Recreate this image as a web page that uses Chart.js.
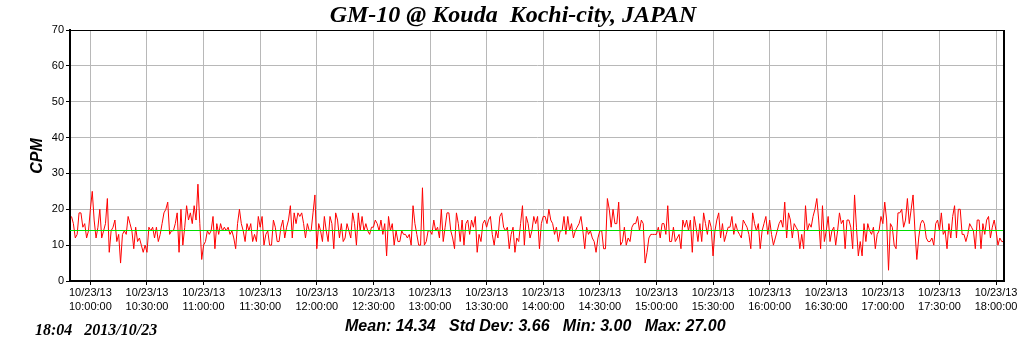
<!DOCTYPE html>
<html lang="en">
<head>
<meta charset="UTF-8">
<title>GM-10 @ Kouda Kochi-city, JAPAN</title>
<script src="https://cdn.jsdelivr.net/npm/chart.js"></script>
<style>
  body { margin: 0; background: #fff; }
</style>
</head>
<body>
<canvas id="cpmChart" width="1024" height="351"></canvas>
<script>
// one reading per minute, first one at 09:50 (x = minutes after 10:00)
const startMinute = -10;
const cpm = [
  // 09:50 - 10:50
  18,16,12,13,19,19,15,16,12,14,20,25,17,12,15,20,12,14,16,23,8,14,15,17,11,13,5,13,14,13,
  18,16,14,9,15,11,12,10,8,10,8,15,14,15,12,15,11,13,16,19,20,22,13,14,14,16,19,8,20,10,15,
  // 10:51 - 11:52
  21,17,19,16,21,17,27,16,6,10,11,14,13,14,18,9,16,13,16,14,15,14,15,13,14,12,9,16,20,16,
  14,11,16,14,16,11,13,11,18,15,18,10,13,14,10,10,17,15,11,11,15,17,12,15,17,21,12,19,16,19,18,19,
  // 11:53 - 12:54
  16,12,16,14,14,19,24,9,16,14,11,18,14,11,18,16,9,19,17,12,16,11,12,16,14,12,19,16,10,19,
  14,18,14,16,14,13,15,15,17,16,14,17,13,16,7,18,14,16,10,14,11,11,14,13,13,12,13,10,21,16,13,10,
  // 12:55 - 13:56
  10,26,10,11,14,14,13,17,14,15,12,20,11,15,19,19,14,12,9,19,16,11,17,10,16,17,13,17,15,18,
  8,13,11,16,17,15,17,18,13,10,14,12,18,19,15,14,15,9,13,15,8,12,11,16,21,10,18,16,12,14,18,16,
  // 13:57 - 14:57
  18,9,16,18,18,16,20,17,16,13,15,11,14,14,18,13,18,14,16,12,14,15,16,18,14,9,15,13,14,12,
  11,8,12,14,14,9,9,23,20,15,20,16,16,22,10,11,15,10,12,11,15,16,16,18,14,17,16,5,8,12,13,
  // 14:58 - 16:00
  13,13,13,15,12,16,16,13,21,11,11,15,11,12,13,9,17,15,17,14,17,8,18,15,11,16,11,19,16,13,
  17,15,7,14,17,19,12,16,11,13,15,15,18,13,16,14,13,12,17,16,15,13,9,19,16,14,16,9,14,16,18,13,17,
  // 16:01 - 17:03
  13,10,12,14,16,17,15,22,12,19,17,12,16,15,14,9,13,9,21,14,16,15,18,20,23,17,9,21,11,14,
  18,11,14,15,10,14,19,16,17,9,17,17,15,9,24,15,7,11,7,16,11,16,14,13,15,9,13,14,18,16,22,17,3,
  // 17:04 - 18:04
  16,15,10,9,19,19,20,15,17,23,16,20,24,14,6,12,16,17,16,12,11,11,12,10,16,17,14,19,13,14,
  9,16,12,18,21,12,20,20,13,13,11,13,16,15,14,9,17,17,9,16,13,17,18,12,15,17,14,10,12,11,11
];
const meanCpm = 14.34;

const tickDate = '10/23/13';
const tickTimes = ['10:00:00','10:30:00','11:00:00','11:30:00','12:00:00','12:30:00','13:00:00','13:30:00',
  '14:00:00','14:30:00','15:00:00','15:30:00','16:00:00','16:30:00','17:00:00','17:30:00','18:00:00'];
const tickMinutes = [0,30,60,90,120,150,180,210,240,270,300,330,360,390,420,450,480];

const chartTitle = 'GM-10 @ Kouda  Kochi-city, JAPAN';
const stampText = '18:04   2013/10/23';
const statsText = 'Mean: 14.34   Std Dev: 3.66   Min: 3.00   Max: 27.00';

const xMin = -10.8;
const xMax = 484.2;

const points = cpm.map((v, i) => ({ x: startMinute + i, y: v }));

// mean line on top of the data
const meanPlugin = {
  id: 'meanLine',
  afterDatasetsDraw(chart) {
    const ctx = chart.ctx;
    const a = chart.chartArea;
    const y = Math.round(chart.scales.y.getPixelForValue(meanCpm)) + 0.5;
    ctx.save();
    ctx.strokeStyle = '#00dd00';
    ctx.lineWidth = 1;
    ctx.beginPath();
    ctx.moveTo(a.left, y);
    ctx.lineTo(a.right, y);
    ctx.stroke();
    ctx.restore();
  }
};

// title, footer texts and the top/right frame
const textPlugin = {
  id: 'texts',
  afterDraw(chart) {
    const ctx = chart.ctx;
    const a = chart.chartArea;
    ctx.save();
    ctx.strokeStyle = '#000';
    ctx.lineWidth = 1;
    ctx.beginPath();
    ctx.moveTo(a.left, a.top + 0.5);
    ctx.lineTo(a.right, a.top + 0.5);
    ctx.stroke();
    ctx.lineWidth = 2;
    ctx.beginPath();
    ctx.moveTo(a.right, a.top);
    ctx.lineTo(a.right, a.bottom);
    ctx.stroke();

    ctx.fillStyle = '#000';
    ctx.textBaseline = 'middle';
    ctx.textAlign = 'center';
    ctx.font = 'bold italic 24px "Liberation Serif"';
    ctx.fillText(chartTitle, 513, 16);

    ctx.textAlign = 'left';
    ctx.font = 'bold italic 16px "Liberation Serif"';
    ctx.fillText(stampText, 35, 331);
    ctx.font = 'bold italic 16px "Liberation Sans"';
    ctx.fillText(statsText, 345, 327);

    ctx.translate(38, 156);
    ctx.rotate(-Math.PI / 2);
    ctx.textAlign = 'center';
    ctx.fillText('CPM', 0, 0);
    ctx.restore();
  }
};

const config = {
  type: 'line',
  data: {
    datasets: [
      {
        label: 'CPM',
        data: points,
        borderColor: '#ff0000',
        borderWidth: 1,
        pointRadius: 0,
        tension: 0
      }
    ]
  },
  options: {
    responsive: false,
    animation: false,
    layout: { padding: { top: 30, right: 20, left: 0, bottom: 0 } },
    plugins: {
      legend: { display: false },
      tooltip: { enabled: false }
    },
    scales: {
      x: {
        type: 'linear',
        min: xMin,
        max: xMax,
        afterBuildTicks: s => { s.ticks = tickMinutes.map(v => ({ value: v })); },
        afterFit: s => { s.height = 70; s.paddingLeft = 0; s.paddingRight = 0; },
        ticks: {
          autoSkip: false,
          maxRotation: 0,
          minRotation: 0,
          padding: 1,
          color: '#000',
          font: { family: 'Liberation Sans', size: 11, lineHeight: 1.27 },
          callback: (v, i) => [tickDate, tickTimes[i]]
        },
        grid: { color: '#b8b8b8', tickColor: '#000', tickLength: 4 },
        border: { color: '#000', width: 2 }
      },
      y: {
        min: 0,
        max: 70,
        afterFit: s => { s.width = 70; s.paddingTop = 0; s.paddingBottom = 0; },
        ticks: {
          stepSize: 10,
          padding: 2,
          color: '#000',
          font: { family: 'Liberation Sans', size: 11 }
        },
        grid: { color: '#b8b8b8', tickColor: '#000', tickLength: 4 },
        border: { color: '#000', width: 2 }
      }
    }
  },
  plugins: [meanPlugin, textPlugin]
};

new Chart(document.getElementById('cpmChart').getContext('2d'), config);
</script>
</body>
</html>
